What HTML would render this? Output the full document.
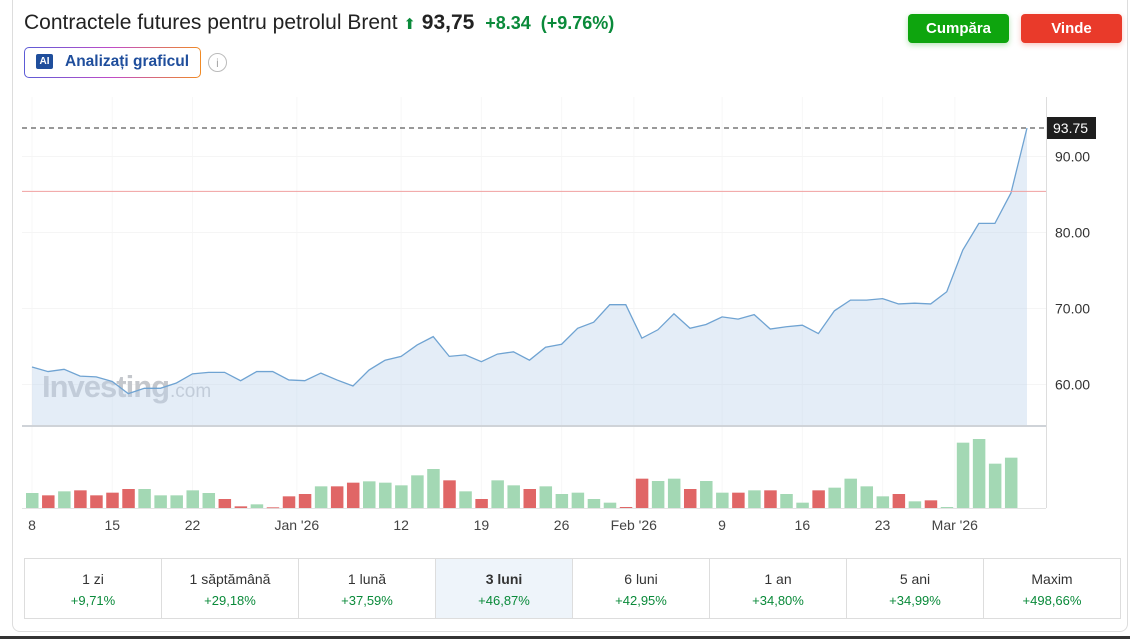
<!DOCTYPE html>
<html><head><meta charset="utf-8">
<style>
body{margin:0;width:1130px;height:639px;background:#fff;font-family:"Liberation Sans",Arial,sans-serif;position:relative;overflow:hidden}
.abs{position:absolute}
.title{left:24px;top:11px;font-size:21px;color:#222;white-space:nowrap}
.btn{top:14px;height:29px;width:101px;border-radius:4px;color:#fff;font-weight:bold;font-size:15px;text-align:center;line-height:29px}
.ai{left:24px;top:47px;width:177px;height:31px;border-radius:5px;border:1px solid transparent;background:linear-gradient(#fff,#fff) padding-box,linear-gradient(90deg,#5b5bd6,#c04cc8,#f08a24) border-box;box-sizing:border-box}
.tabs{left:24px;top:558px;width:1097px;height:61px;border:1px solid #ddd;display:flex;box-sizing:border-box}
.tab{flex:1;border-right:1px solid #ddd;text-align:center;font-size:14px;color:#333}
.tab:last-child{border-right:none}
.tab .p{color:#0a8a3a;font-size:13px;margin-top:6px}
</style></head><body>
<div class="abs" style="left:12px;top:-10px;width:1116px;height:642px;border:1px solid #ddd;border-radius:8px;box-sizing:border-box"></div>
<div class="abs" style="left:0;top:636px;width:1130px;height:3px;background:#333"></div>
<div class="abs title">Contractele futures pentru petrolul Brent <span style="color:#0a8a3a;font-size:15px">&#11014;</span> <b style="font-size:21px">93,75</b> <span style="color:#0a8a3a;font-weight:bold;font-size:18px">&nbsp;+8.34 &nbsp;(+9.76%)</span></div>
<div class="abs btn" style="left:908px;background:#0ea50e;box-shadow:0 2px 6px rgba(14,165,14,.3)">Cumpăra</div>
<div class="abs btn" style="left:1021px;background:#e93a2a;box-shadow:0 2px 6px rgba(233,58,42,.3)">Vinde</div>
<div class="abs ai">
<span class="abs" style="left:11px;top:6px;width:17px;height:15px;background:#1f4e9c;border-radius:2px;color:#fff;font-size:10px;font-weight:bold;text-align:center;line-height:15px">AI</span>
<span class="abs" style="left:40px;top:5px;color:#1f4e9c;font-weight:bold;font-size:15.5px">Analizați graficul</span></div>
<div class="abs" style="left:208px;top:53px;width:19px;height:19px;border:1px solid #bbb;border-radius:50%;color:#aaa;font-size:12px;text-align:center;line-height:18px;box-sizing:border-box">i</div>
<svg class="abs" style="left:0;top:0" width="1130" height="560" id="chart"></svg>
<div class="abs tabs">
<div class="tab"><div style="margin-top:12px">1 zi</div><div class="p">+9,71%</div></div>
<div class="tab"><div style="margin-top:12px">1 săptămână</div><div class="p">+29,18%</div></div>
<div class="tab"><div style="margin-top:12px">1 lună</div><div class="p">+37,59%</div></div>
<div class="tab" style="background:#eef4fa"><div style="margin-top:12px;font-weight:bold">3 luni</div><div class="p">+46,87%</div></div>
<div class="tab"><div style="margin-top:12px">6 luni</div><div class="p">+42,95%</div></div>
<div class="tab"><div style="margin-top:12px">1 an</div><div class="p">+34,80%</div></div>
<div class="tab"><div style="margin-top:12px">5 ani</div><div class="p">+34,99%</div></div>
<div class="tab"><div style="margin-top:12px">Maxim</div><div class="p">+498,66%</div></div>
</div>
<script>
const closes=[62.3,61.7,62.0,61.1,61.0,60.4,58.8,59.5,59.5,60.2,61.4,61.6,61.6,60.5,61.7,61.7,60.6,60.5,61.5,60.6,59.8,61.9,63.2,63.7,65.2,66.3,63.7,63.9,63.0,64.0,64.3,63.2,64.9,65.3,67.4,68.2,70.5,70.5,66.1,67.2,69.3,67.4,67.9,68.9,68.6,69.2,67.3,67.6,67.8,66.7,69.7,71.1,71.1,71.3,70.6,70.7,70.6,72.2,77.7,81.2,81.2,85.2,93.75];
const volumes=[45,38,50,53,38,46,57,57,38,38,53,45,27,5,11,2,35,42,65,65,76,80,76,68,98,117,83,50,27,83,68,57,65,42,46,27,16,3,88,81,88,57,81,46,46,53,53,42,16,53,61,88,65,35,42,20,23,3,196,207,133,151];
const volUp=[1,0,1,0,0,0,0,1,1,1,1,1,0,0,1,0,0,0,1,0,0,1,1,1,1,1,0,1,0,1,1,0,1,1,1,1,1,0,0,1,1,0,1,1,0,1,0,1,1,0,1,1,1,1,0,1,0,1,1,1,1,1];
const yTicks=[60,70,80,90];
const xTickIdx=[0,5,10,16.5,23,28,33,37.5,43,48,53,57.5];
const xTickLabels=["8","15","22","Jan '26","12","19","26","Feb '26","9","16","23","Mar '26"];
const lastPrice=93.75, prevClose=85.41;
const svg=document.getElementById('chart');const NS='http://www.w3.org/2000/svg';
const X=i=>32+i*(995/62);
const Y=v=>384.5-(v-60)*7.6;
const VB=508, VY=v=>v/3;
function mk(t,a,p){const e=document.createElementNS(NS,t);for(const k in a)e.setAttribute(k,a[k]);(p||svg).appendChild(e);return e;}
xTickIdx.forEach(i=>{const g=mk('line',{x1:X(i),x2:X(i),y1:97,y2:508,stroke:'#f7f7f7'});

});
yTicks.forEach(v=>{const g=mk('line',{x1:22,x2:1046,y1:Y(v),y2:Y(v),stroke:'#f5f5f5'});

});
const wm=mk('text',{x:42,y:397,'font-size':31,'font-weight':'bold',fill:'#c4c7cc','letter-spacing':'-1'});wm.textContent='Investing';


const wm2=mk('text',{x:170,y:397,'font-size':19,fill:'#c4c7cc'});wm2.textContent='.com';


let d='M'+X(0)+','+Y(closes[0]);closes.forEach((c,i)=>{d+=' L'+X(i)+','+Y(c);});
const area=mk('path',{d:d+' L'+X(closes.length-1)+',426 L'+X(0)+',426 Z',fill:'rgba(190,212,235,0.42)'});


const line=mk('path',{d:d,fill:'none',stroke:'#6fa3d2','stroke-width':1.3});


const pc=mk('line',{x1:22,x2:1046,y1:Y(prevClose),y2:Y(prevClose),stroke:'#f0a0a0'});


const lp=mk('line',{x1:22,x2:1046,y1:Y(lastPrice),y2:Y(lastPrice),stroke:'#333','stroke-dasharray':'5,4'});


const sep=mk('line',{x1:22,x2:1046,y1:426,y2:426,stroke:'#cfd3d8','stroke-width':2});


const ax=mk('line',{x1:1046.5,x2:1046.5,y1:97,y2:508,stroke:'#ddd'});


const bx=mk('line',{x1:22,x2:1046,y1:508.5,y2:508.5,stroke:'#e3e3e3'});


volumes.forEach((v,i)=>{const h=VY(v);const r=mk('rect',{x:X(i)-6,y:VB-h,width:12.5,height:Math.max(h,0.8),fill:volUp[i]?'#a3d8b4':'#e06666'});

});
yTicks.forEach(v=>{const t=mk('text',{x:1055,y:Y(v)+5,'font-size':14,fill:'#333'});t.textContent=v.toFixed(2);

});
const box=mk('rect',{x:1047,y:Y(lastPrice)-11,width:49,height:22,fill:'#1e1e1e'});


const bt=mk('text',{x:1053,y:Y(lastPrice)+5,'font-size':14,fill:'#fff'});bt.textContent=lastPrice.toFixed(2);


xTickIdx.forEach((i,k)=>{const t=mk('text',{x:X(i),y:530,'font-size':14,fill:'#444','text-anchor':'middle'});t.textContent=xTickLabels[k];

});
</script>
</body></html>
